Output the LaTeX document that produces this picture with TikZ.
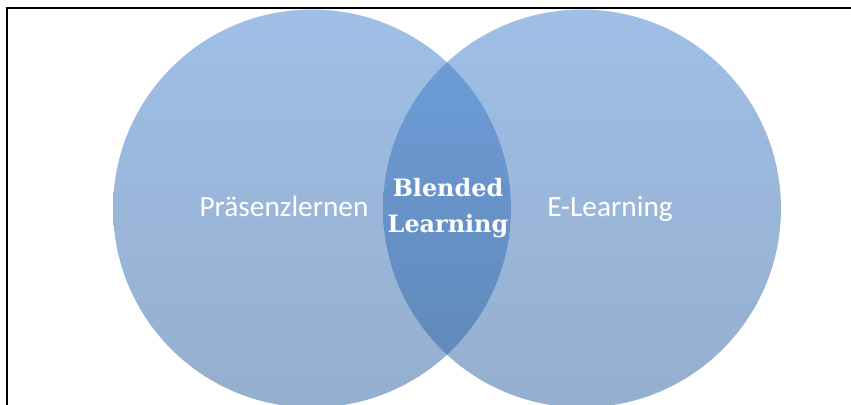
\documentclass[tikz,border=0pt]{standalone}
\usepackage{fontspec}
\setmainfont{Carlito}
\newfontfamily\blendfont{DejaVu Serif}
\usetikzlibrary{shapes}

\definecolor{settop}{RGB}{63,127,207}
\definecolor{setbottom}{RGB}{43,95,157}

\tikzset{
    set/.style={circle, minimum size=7.96cm, inner sep=0pt, fill opacity=0.5, top color=settop, bottom color=setbottom},
    setlabel/.style={anchor=base, text=white, font=\fontsize{16.7}{20}\selectfont},
}

\begin{document}
\begin{tikzpicture}[x=0.02cm, y=-0.02cm]
    \useasboundingbox (0,0) rectangle (851,405);
    \clip (0,0) rectangle (851,405);

    % frame, cut off at the right and bottom
    \draw[line width=1.3pt] (7,8) rectangle (900,450);

    % the two sets
    \node[set] (praesenz) at (312,208.5) {};
    \node[set] (elearn) at (582,208.5) {};

    \node[setlabel] (praesenztext) at (284,216) {Präsenzlernen};
    \node[setlabel] (elearntext) at (610,216) {E-Learning};
    \node[text=white, align=center, font=\blendfont\bfseries\fontsize{13.6}{20.4}\selectfont] (blend) at (448,208) {Blended\\Learning}; % overlap

\end{tikzpicture}
\end{document}
